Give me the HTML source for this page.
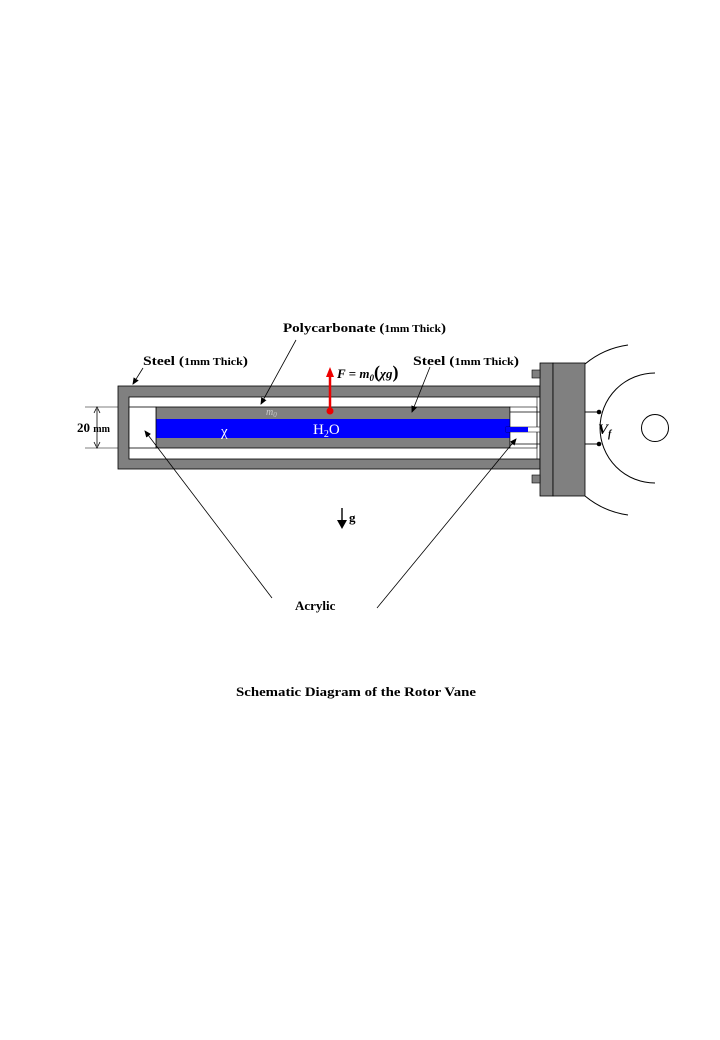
<!DOCTYPE html>
<html><head><meta charset="utf-8"><style>
html,body{margin:0;padding:0;background:#fff;}
svg{display:block;}
text{font-family:"Liberation Serif",serif;font-weight:bold;fill:#000;}
</style></head><body>
<svg width="720" height="1040" viewBox="0 0 720 1040" xmlns="http://www.w3.org/2000/svg">
<defs>
<marker id="ah" markerWidth="8" markerHeight="8" refX="6" refY="4" orient="auto" markerUnits="userSpaceOnUse"><path d="M0,1 L7,4 L0,7 Z" fill="#000"/></marker>
</defs>
<!-- arcs -->
<path d="M585,364 A86,86 0 0 1 628,345" fill="none" stroke="#000" stroke-width="1"/>
<path d="M585,496 A86,86 0 0 0 628,515" fill="none" stroke="#000" stroke-width="1"/>
<path d="M655,373 A55,55 0 0 0 655,483" fill="none" stroke="#000" stroke-width="1"/>
<circle cx="655" cy="428" r="13.5" fill="#fff" stroke="#000" stroke-width="1"/>
<!-- outer steel -->
<rect x="118" y="386" width="422" height="83" fill="#808080" stroke="#000" stroke-width="0.8"/>
<rect x="129" y="397" width="411" height="62" fill="#fff" stroke="#000" stroke-width="0.8"/>
<!-- inner grey tube -->
<rect x="156" y="407" width="354" height="41" fill="#808080" stroke="#000" stroke-width="0.8"/>
<rect x="156" y="419" width="354" height="19" fill="#0000ff"/>
<!-- acrylic left -->
<rect x="129" y="407" width="27" height="41" fill="#fff" stroke="#000" stroke-width="0.8"/>
<!-- right interior -->
<rect x="510" y="407" width="27" height="41" fill="#fff" stroke="#000" stroke-width="0.6"/>
<line x1="537" y1="397" x2="537" y2="459" stroke="#000" stroke-width="0.6"/>
<rect x="506" y="427" width="42" height="5" fill="#fff" stroke="#000" stroke-width="0.5"/>
<rect x="506" y="427" width="22" height="5" fill="#0000ff"/>
<rect x="547" y="417" width="5" height="22" fill="#fff" stroke="#000" stroke-width="0.6"/>
<line x1="510" y1="412" x2="599" y2="412" stroke="#000" stroke-width="0.8"/>
<line x1="510" y1="444" x2="599" y2="444" stroke="#000" stroke-width="0.8"/>
<!-- flange and block -->
<rect x="540" y="363" width="13" height="133" fill="#808080" stroke="#000" stroke-width="0.8"/>
<rect x="553" y="363" width="32" height="133" fill="#808080" stroke="#000" stroke-width="0.8"/>
<rect x="532" y="370" width="8" height="8" fill="#808080" stroke="#000" stroke-width="0.6"/>
<rect x="532" y="475" width="8" height="8" fill="#808080" stroke="#000" stroke-width="0.6"/>
<line x1="585" y1="412" x2="599" y2="412" stroke="#000" stroke-width="0.8"/>
<line x1="585" y1="444" x2="599" y2="444" stroke="#000" stroke-width="0.8"/>
<circle cx="599" cy="412" r="2.3" fill="#000"/>
<circle cx="599" cy="444" r="2.3" fill="#000"/>
<!-- dimension -->
<line x1="85" y1="407" x2="118" y2="407" stroke="#000" stroke-width="0.6"/>
<line x1="85" y1="448" x2="118" y2="448" stroke="#000" stroke-width="0.6"/>
<line x1="97" y1="409" x2="97" y2="446" stroke="#000" stroke-width="0.8"/>
<path d="M94,413 L97,407 L100,413" fill="none" stroke="#000" stroke-width="0.8"/>
<path d="M94,442 L97,448 L100,442" fill="none" stroke="#000" stroke-width="0.8"/>
<!-- leader lines -->
<line x1="143" y1="368" x2="133" y2="384" stroke="#000" stroke-width="0.8" marker-end="url(#ah)"/>
<line x1="296" y1="340" x2="261" y2="404" stroke="#000" stroke-width="0.8" marker-end="url(#ah)"/>
<line x1="430" y1="367" x2="412" y2="412" stroke="#000" stroke-width="0.8" marker-end="url(#ah)"/>
<line x1="272" y1="598" x2="145" y2="431" stroke="#000" stroke-width="0.8" marker-end="url(#ah)"/>
<line x1="377" y1="608" x2="516" y2="439" stroke="#000" stroke-width="0.8" marker-end="url(#ah)"/>
<!-- red force -->
<line x1="330" y1="410" x2="330" y2="374" stroke="#e00" stroke-width="2.5"/>
<path d="M326,377 L330,367 L334,377 Z" fill="#e00"/>
<circle cx="330" cy="411" r="3.5" fill="#e00"/>
<!-- gravity -->
<line x1="342" y1="508" x2="342" y2="526" stroke="#000" stroke-width="1.4"/>
<path d="M337,520 L342,529 L347,520 Z" fill="#000"/>
<text x="349" y="522" font-size="13">g</text>
<!-- labels -->
<text x="283" y="332" font-size="13" textLength="163" lengthAdjust="spacingAndGlyphs">Polycarbonate (<tspan font-size="10">1mm Thick</tspan>)</text>
<text x="143" y="365" font-size="13" textLength="105" lengthAdjust="spacingAndGlyphs">Steel (<tspan font-size="10">1mm Thick</tspan>)</text>
<text x="413" y="365" font-size="13" textLength="106" lengthAdjust="spacingAndGlyphs">Steel (<tspan font-size="10">1mm Thick</tspan>)</text>
<text x="337" y="378" font-size="13" font-style="italic">F = m<tspan font-size="9" dy="3">0</tspan><tspan dy="-3" font-size="18" font-style="normal">(</tspan>χg<tspan font-size="18" font-style="normal">)</tspan></text>
<text x="266" y="415" font-size="10" font-style="italic" style="fill:#ccc;font-weight:normal">m<tspan font-size="7" dy="2">0</tspan></text>
<text x="221" y="436" font-size="15" style="fill:#fff;font-weight:normal">χ</text>
<text x="313" y="434" font-size="15" style="fill:#fff;font-weight:normal">H<tspan font-size="10" dy="3">2</tspan><tspan dy="-3">O</tspan></text>
<text x="77" y="432" font-size="13">20 <tspan font-size="10">mm</tspan></text>
<text x="598" y="434" font-size="15" font-style="italic">V<tspan font-size="10" dy="3">f</tspan></text>
<text x="295" y="610" font-size="13">Acrylic</text>
<text x="236" y="696" font-size="13" textLength="240" lengthAdjust="spacingAndGlyphs">Schematic Diagram of the Rotor Vane</text>
</svg>
</body></html>
